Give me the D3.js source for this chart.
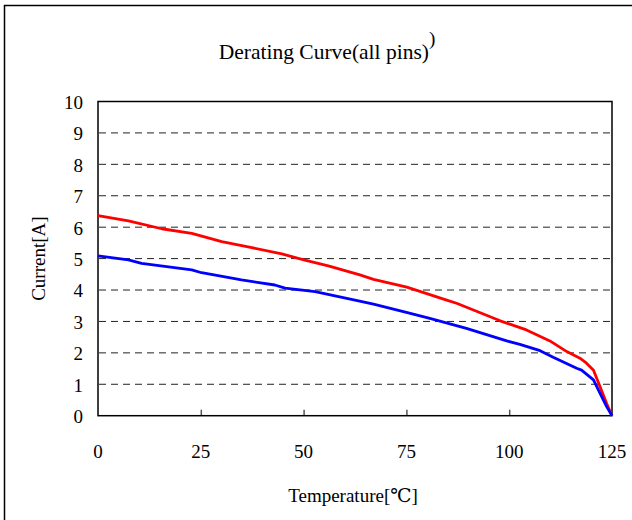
<!DOCTYPE html>
<html><head><meta charset="utf-8">
<script src="https://cdn.jsdelivr.net/npm/d3@7"></script>
<style>
html,body{margin:0;padding:0;background:#fff;}
</style></head>
<body>
<svg id="chart" width="632" height="520"></svg>
<script>
const FONT = "'Liberation Serif', 'Times New Roman', Times, 'DejaVu Serif', serif";
const title = "Derating Curve(all pins)";
const xLabel = "Temperature[℃]";
const yLabel = "Current[A]";
const xTicks = [0, 25, 50, 75, 100, 125];
const yTicks = [0, 1, 2, 3, 4, 5, 6, 7, 8, 9, 10];

const redTemp = [0, 7.4, 15.5, 22.8, 30.1, 37.4, 44.7, 50.3, 56, 63.7, 67, 75.1, 84.8, 87.2, 97.8, 104.2, 109.9, 114, 117.2, 118.8, 120.5, 122.1, 123.7, 125];
const redCurr = [6.37, 6.20, 5.95, 5.80, 5.54, 5.35, 5.15, 4.95, 4.77, 4.48, 4.34, 4.09, 3.68, 3.58, 3.02, 2.73, 2.38, 2.04, 1.83, 1.67, 1.45, 0.92, 0.39, 0];
const blueTemp = [0, 7.4, 10.6, 22.8, 25.2, 34.9, 43, 45.5, 52.8, 62.5, 67, 75, 80.7, 89.6, 99.4, 102.6, 107.5, 110.7, 116.4, 117.6, 120.5, 122.1, 123.7, 125];
const blueCurr = [5.09, 4.96, 4.85, 4.64, 4.55, 4.32, 4.16, 4.06, 3.95, 3.68, 3.55, 3.29, 3.10, 2.78, 2.38, 2.27, 2.07, 1.86, 1.51, 1.45, 1.14, 0.71, 0.29, 0];

const svg = d3.select("#chart");
const L = 98, R = 612, T = 101.5, B = 415.7;
const x = d3.scaleLinear().domain([0, 125]).range([L, R]);
const y = d3.scaleLinear().domain([0, 10]).range([B, T]);

svg.append("rect").attr("x", 4.5).attr("y", 5.5).attr("width", 700).attr("height", 600)
  .attr("fill", "none").attr("stroke", "#000").attr("stroke-width", 1.5);

const tt = svg.append("text").attr("x", 327).attr("y", 59).attr("text-anchor", "middle")
  .attr("font-family", FONT).attr("font-size", 21.5);
tt.append("tspan").text(title);
tt.append("tspan").attr("dy", -14).attr("font-size", 19).text(")");

svg.append("g").selectAll("line").data(yTicks.filter(d => d > 0 && d < 10)).join("line")
  .attr("x1", L + 1).attr("x2", R).attr("y1", d => y(d)).attr("y2", d => y(d))
  .attr("stroke", "#222").attr("stroke-width", 1).attr("stroke-dasharray", "7,5");

const xAxis = d3.axisBottom(x).tickValues(xTicks).tickSize(-6).tickPadding(0).tickFormat("");
const gx = svg.append("g").attr("transform", `translate(0,${B})`).call(xAxis);
gx.select(".domain").remove();
gx.selectAll(".tick line").attr("stroke", "#555").attr("stroke-width", 1.5);
gx.selectAll(".tick").filter(d => d === 0 || d === 125).remove();

svg.append("g").selectAll("text").data(xTicks).join("text")
  .attr("x", d => x(d)).attr("y", 458).attr("text-anchor", "middle")
  .attr("font-family", FONT).attr("font-size", 19).text(d => d);

const yAxis = d3.axisLeft(y).tickValues(yTicks).tickSize(0).tickPadding(15);
const gy = svg.append("g").attr("transform", `translate(${L},0)`).call(yAxis);
gy.select(".domain").remove();
gy.attr("font-family", FONT).attr("font-size", 19);
gy.selectAll("text").attr("fill", "#000").attr("dy", "0.36em");

svg.append("rect").attr("x", L).attr("y", T).attr("width", R - L).attr("height", B - T)
  .attr("fill", "none").attr("stroke", "#000").attr("stroke-width", 1.5);

const line = d3.line().x(d => x(d[0])).y(d => y(d[1]));
svg.append("path").datum(redTemp.map((t, i) => [t, redCurr[i]]))
  .attr("d", line).attr("fill", "none").attr("stroke", "#ff0000").attr("stroke-width", 2.8)
  .attr("stroke-linejoin", "round");
svg.append("path").datum(blueTemp.map((t, i) => [t, blueCurr[i]]))
  .attr("d", line).attr("fill", "none").attr("stroke", "#0000ff").attr("stroke-width", 2.8)
  .attr("stroke-linejoin", "round");

svg.append("text").attr("x", 353).attr("y", 502).attr("text-anchor", "middle")
  .attr("font-family", FONT).attr("font-size", 19).text(xLabel);
svg.append("text").attr("transform", `translate(45,${(T + B) / 2}) rotate(-90)`)
  .attr("text-anchor", "middle").attr("font-family", FONT).attr("font-size", 19).text(yLabel);
</script>
</body></html>
